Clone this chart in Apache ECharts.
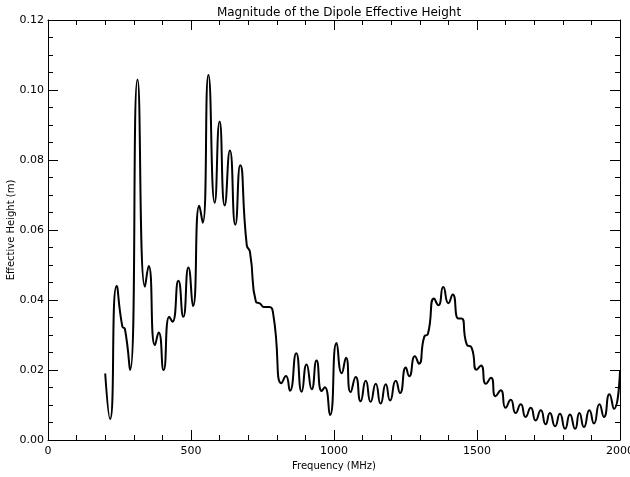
<!DOCTYPE html>
<html>
<head>
<meta charset="utf-8">
<script src="https://cdn.jsdelivr.net/npm/echarts@6/dist/echarts.min.js"></script>
<style>
  html, body { margin: 0; padding: 0; background: #fff; }
  #chart { width: 630px; height: 477px; }
</style>
</head>
<body>
<div id="chart"></div>
<script>
// frequency samples (MHz) at peaks / troughs
var freq = [200, 217, 240, 260, 269, 287, 313, 339, 352, 374, 387, 404, 424, 435, 456, 473, 491, 507, 529, 541,
    561, 583, 600, 618, 636, 655, 672, 695, 706, 727, 741, 755, 773, 788, 817, 832, 846, 868, 887, 904,
    922, 939, 957, 968, 986, 1009, 1027, 1042, 1058, 1076, 1093, 1111, 1128, 1146, 1163, 1181, 1196, 1216, 1231, 1251,
    1263, 1283, 1297, 1316, 1328, 1350, 1365, 1382, 1400, 1415, 1435, 1446, 1464, 1481, 1499, 1514, 1531, 1549, 1565, 1583,
    1600, 1618, 1635, 1653, 1670, 1688, 1705, 1723, 1740, 1755, 1773, 1790, 1808, 1825, 1843, 1858, 1874, 1893, 1909, 1928,
    1944, 1963, 1979, 2000];
// effective height (m)
var height = [0.019, 0.006, 0.044, 0.0324, 0.0317, 0.020, 0.103, 0.0438, 0.0497, 0.0271, 0.0307, 0.020, 0.0352, 0.0338, 0.0455, 0.0352, 0.0493, 0.0383, 0.0669, 0.0621,
    0.1043, 0.0678, 0.091, 0.067, 0.0827, 0.0615, 0.0785, 0.0557, 0.0538, 0.0395, 0.039, 0.038, 0.038, 0.0357, 0.0162, 0.0183, 0.0141, 0.0248, 0.0138, 0.0216,
    0.0145, 0.0227, 0.014, 0.0151, 0.0071, 0.0277, 0.0191, 0.0235, 0.0137, 0.018, 0.0111, 0.0169, 0.0109, 0.0161, 0.0104, 0.0159, 0.0113, 0.0169, 0.0134, 0.0207,
    0.0182, 0.0239, 0.0218, 0.0296, 0.0302, 0.0404, 0.0385, 0.0437, 0.0391, 0.0416, 0.0347, 0.0347, 0.0273, 0.0264, 0.0201, 0.0213, 0.0161, 0.0178, 0.0125, 0.0142,
    0.0092, 0.0115, 0.0077, 0.0102, 0.0066, 0.0092, 0.0056, 0.0085, 0.0045, 0.0077, 0.0039, 0.0075, 0.0032, 0.0073, 0.0032, 0.0077, 0.0037, 0.0085, 0.0047, 0.0102,
    0.0066, 0.0131, 0.0089, 0.0197];

var xTicks = [0, 500, 1000, 1500, 2000];
var yTicks = [0, 0.02, 0.04, 0.06, 0.08, 0.10, 0.12];

var font = 'DejaVu Sans';
var chart = echarts.init(document.getElementById('chart'));

var points = freq.map(function (f, i) { return [f, height[i]]; });

// same look for all four sides of the box
function boxAxis(extra) {
    var base = {
        axisLine: { show: true, onZero: false, lineStyle: { color: '#000', width: 1 } },
        axisTick: { show: true, inside: true, length: 10, lineStyle: { color: '#000' } },
        minorTick: { show: true, length: 5, lineStyle: { color: '#000' } },
        splitLine: { show: false },
        minorSplitLine: { show: false }
    };
    return Object.assign(base, extra);
}

var option = {
    backgroundColor: '#fff',
    animation: false,
    title: {
        text: 'Magnitude of the Dipole Effective Height',
        left: 334, textAlign: 'center', top: 2,
        textStyle: { fontFamily: font, fontSize: 12, fontWeight: 'normal', color: '#000' }
    },
    grid: { left: 48, right: 10, top: 20, bottom: 37, containLabel: false, outerBoundsMode: 'none' },
    xAxis: [
        boxAxis({
            type: 'value', min: xTicks[0], max: xTicks[xTicks.length - 1], interval: 500,
            minorTick: { show: true, splitNumber: 5, length: 5, lineStyle: { color: '#000' } },
            name: 'Frequency (MHz)', nameLocation: 'middle', nameGap: 21, nameMoveOverlap: false,
            nameTextStyle: { fontFamily: font, fontSize: 10, color: '#000' },
            axisLabel: {
                fontFamily: font, fontSize: 11, color: '#000', margin: 6,
                formatter: function (v) { return String(v); }
            }
        }),
        boxAxis({
            type: 'value', position: 'top', min: xTicks[0], max: xTicks[xTicks.length - 1], interval: 500,
            minorTick: { show: true, splitNumber: 5, length: 5, lineStyle: { color: '#000' } },
            axisLabel: { show: false }
        })
    ],
    yAxis: [
        boxAxis({
            type: 'value', min: yTicks[0], max: yTicks[yTicks.length - 1], interval: 0.02,
            minorTick: { show: true, splitNumber: 4, length: 5, lineStyle: { color: '#000' } },
            name: 'Effective Height (m)', nameLocation: 'middle', nameGap: 32, nameMoveOverlap: false,
            nameTextStyle: { fontFamily: font, fontSize: 10, color: '#000' },
            axisLabel: {
                fontFamily: font, fontSize: 11, color: '#000', margin: 4,
                formatter: function (v) { return v.toFixed(2); }
            }
        }),
        boxAxis({
            type: 'value', position: 'right', min: yTicks[0], max: yTicks[yTicks.length - 1], interval: 0.02,
            minorTick: { show: true, splitNumber: 4, length: 5, lineStyle: { color: '#000' } },
            axisLabel: { show: false }
        })
    ],
    series: [{
        type: 'line',
        xAxisIndex: 0,
        yAxisIndex: 0,
        data: points,
        smooth: 0.6,
        showSymbol: false,
        lineStyle: { color: '#000', width: 2 }
    }]
};

chart.setOption(option);
</script>
</body>
</html>
